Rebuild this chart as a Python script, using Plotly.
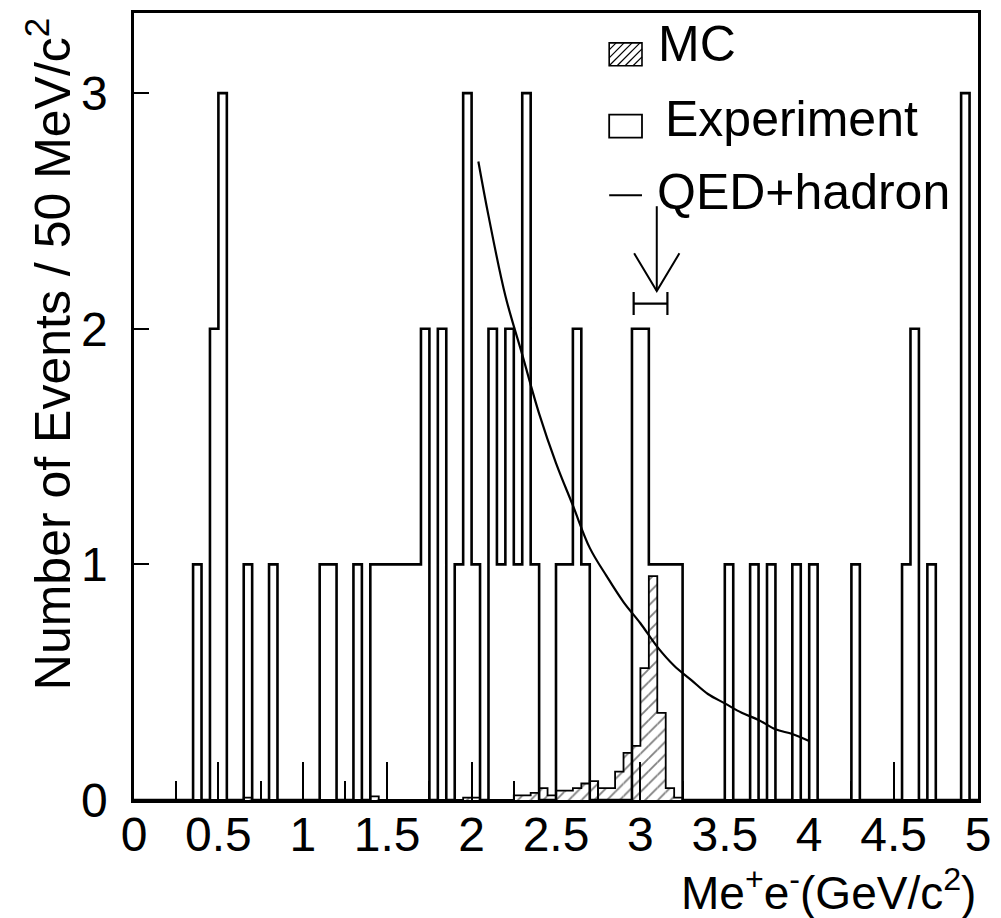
import numpy as np
import plotly.graph_objects as go

# ---------------- data ----------------
bin_width = 0.05
# Experiment: events per 50 MeV bin, bins 0..99 covering 0..5 GeV
exp_counts = [
    0, 0, 0, 0, 0, 0, 0, 1, 0, 2, 3, 0, 0, 1, 0, 0, 1, 0, 0, 0,
    0, 0, 1, 1, 0, 0, 1, 0, 1, 1, 1, 1, 1, 1, 2, 0, 2, 0, 1, 3,
    1, 0, 2, 1, 2, 1, 3, 1, 0, 0, 1, 1, 2, 1, 0, 0, 0, 0, 0, 2,
    2, 1, 1, 1, 1, 0, 0, 0, 0, 0, 1, 0, 0, 1, 0, 1, 0, 0, 1, 0,
    1, 0, 0, 0, 0, 1, 0, 0, 0, 0, 0, 1, 2, 0, 1, 0, 0, 0, 3, 0,
]
# MC (J/psi) expectation per bin
mc_values = [
    0, 0, 0, 0, 0, 0, 0, 0, 0, 0, 0, 0, 0, 0.01, 0, 0, 0, 0, 0, 0,
    0, 0, 0, 0, 0, 0, 0, 0, 0.015, 0, 0, 0, 0, 0, 0, 0, 0, 0, 0, 0.01,
    0.01, 0, 0, 0, 0, 0.02, 0.02, 0.03, 0.05, 0.02, 0.04, 0.04, 0.05, 0.07, 0.08, 0.05, 0.05, 0.12, 0.20, 0.23,
    0.56, 0.95, 0.37, 0.05, 0.01, 0, 0, 0, 0, 0, 0, 0, 0, 0, 0, 0, 0, 0, 0, 0,
    0, 0, 0, 0, 0, 0, 0, 0, 0, 0, 0, 0, 0, 0, 0, 0, 0, 0, 0, 0,
]
# QED + hadron background curve
qed_x = [2.04, 2.10, 2.20, 2.30, 2.40, 2.50, 2.60, 2.70, 2.80, 2.90, 3.00,
         3.10, 3.20, 3.30, 3.40, 3.50, 3.60, 3.70, 3.80, 3.90, 4.00]
qed_y = [2.71, 2.48, 2.14, 1.89, 1.64, 1.43, 1.25, 1.07, 0.95, 0.84, 0.75,
         0.65, 0.57, 0.51, 0.45, 0.41, 0.37, 0.34, 0.30, 0.28, 0.25]
# J/psi marker: arrow and mass window
jpsi_mass = 3.097
arrow_top, arrow_tip, arrow_wing_y, arrow_wing_dx = 2.52, 2.16, 2.32, 0.134
window_center, window_half, window_y = 3.06, 0.10, 2.107

x_tick_vals = [0, 0.5, 1, 1.5, 2, 2.5, 3, 3.5, 4, 4.5, 5]
x_tick_text = ["0", "0.5", "1", "1.5", "2", "2.5", "3", "3.5", "4", "4.5", "5"]
y_tick_vals = [0, 1, 2, 3]

# ---------------- figure ----------------
FONT = "Liberation Sans, Arial, Helvetica, sans-serif"
L, R, T, B = 134, 18, 10, 118
W, H = 1001, 918
PW, PH = W - L - R, H - T - B


def px(xp):
    return (xp - L) / PW


def py(yp):
    return (H - B - yp) / PH


nb = len(exp_counts)
edges = [round(i * bin_width, 4) for i in range(nb + 1)]
centers = [round((i + 0.5) * bin_width, 4) for i in range(nb)]

fig = go.Figure()

# MC hatched bars
fig.add_trace(go.Bar(
    x=centers, y=mc_values, width=bin_width,
    marker=dict(color="white", line=dict(width=0),
                pattern=dict(shape="/", fgcolor="black", bgcolor="white",
                             size=9, solidity=0.2)),
    showlegend=False, hoverinfo="skip"))
# MC outline
fig.add_trace(go.Scatter(
    x=edges, y=mc_values + [mc_values[-1]], mode="lines",
    line=dict(color="black", width=1.8, shape="hv"),
    showlegend=False, hoverinfo="skip"))
# Experiment outline histogram
fig.add_trace(go.Scatter(
    x=edges, y=exp_counts + [exp_counts[-1]], mode="lines",
    line=dict(color="black", width=2.6, shape="hv"),
    showlegend=False))
# QED + hadron curve
fig.add_trace(go.Scatter(
    x=qed_x, y=qed_y, mode="lines",
    line=dict(color="black", width=2.2, shape="spline"),
    showlegend=False))
# J/psi arrow
fig.add_trace(go.Scatter(
    x=[jpsi_mass, jpsi_mass, None, jpsi_mass - arrow_wing_dx, jpsi_mass, jpsi_mass + arrow_wing_dx],
    y=[arrow_top, arrow_tip, None, arrow_wing_y, arrow_tip, arrow_wing_y],
    mode="lines", line=dict(color="black", width=2), showlegend=False, hoverinfo="skip"))
# mass window bar
fig.add_trace(go.Scatter(
    x=[window_center], y=[window_y], mode="markers",
    marker=dict(size=1, color="rgba(0,0,0,0)"),
    error_x=dict(type="constant", value=window_half, color="black", thickness=2.2, width=11.5),
    showlegend=False, hoverinfo="skip"))

# ---------------- legend (drawn manually) ----------------
shapes = []
# MC swatch: hatched box
bx0, bx1, by0, by1 = 612, 645, 40, 63
shapes.append(dict(type="rect", xref="paper", yref="paper",
                   x0=px(bx0), x1=px(bx1), y0=py(by1), y1=py(by0),
                   line=dict(color="black", width=1.6), fillcolor="white"))
step = 8
for k in range(-3, 6):
    xa, ya = bx0 + k * step, by1
    xb, yb = xa + (by1 - by0), by0
    if xa < bx0:
        ya -= (bx0 - xa); xa = bx0
    if xb > bx1:
        yb += (xb - bx1); xb = bx1
    if xa >= xb or ya <= yb:
        continue
    shapes.append(dict(type="line", xref="paper", yref="paper",
                       x0=px(xa), y0=py(ya), x1=px(xb), y1=py(yb),
                       line=dict(color="black", width=1.2)))
# Experiment swatch
shapes.append(dict(type="rect", xref="paper", yref="paper",
                   x0=px(612), x1=px(645), y0=py(135), y1=py(112),
                   line=dict(color="black", width=1.8), fillcolor="white"))
# QED swatch
shapes.append(dict(type="line", xref="paper", yref="paper",
                   x0=px(612), x1=px(645), y0=py(193), y1=py(193),
                   line=dict(color="black", width=2)))

LEG = 50
annotations = [
    dict(text="MC", x=px(659), y=py(41), xref="paper", yref="paper",
         xanchor="left", yanchor="middle", showarrow=False,
         font=dict(family=FONT, size=LEG, color="black")),
    dict(text="Experiment", x=px(666), y=py(116), xref="paper", yref="paper",
         xanchor="left", yanchor="middle", showarrow=False,
         font=dict(family=FONT, size=LEG, color="black")),
    dict(text="QED+hadron", x=px(658), y=py(190), xref="paper", yref="paper",
         xanchor="left", yanchor="middle", showarrow=False,
         font=dict(family=FONT, size=LEG, color="black")),
    # axis titles
    dict(text="Number of Events / 50 MeV/c<sup>2</sup>", x=px(48), y=py(352),
         xref="paper", yref="paper", xanchor="center", yanchor="middle",
         textangle=-90, showarrow=False,
         font=dict(family=FONT, size=50, color="black")),
    dict(text="Me<sup>+</sup>e<sup>-</sup>(GeV/c<sup>2</sup>)", x=px(983), y=py(890),
         xref="paper", yref="paper", xanchor="right", yanchor="middle",
         showarrow=False, font=dict(family=FONT, size=46, color="black")),
]

fig.update_layout(
    width=W, height=H,
    margin=dict(l=L, r=R, t=T, b=B, pad=0),
    paper_bgcolor="white", plot_bgcolor="white",
    barmode="overlay", showlegend=False,
    font=dict(family=FONT, color="black"),
    shapes=shapes, annotations=annotations,
)
fig.update_xaxes(
    range=[0, 5], tickvals=x_tick_vals, ticktext=x_tick_text,
    ticks="inside", ticklen=38, tickwidth=2, tickcolor="black",
    minor=dict(dtick=0.25, tick0=0, ticks="inside", ticklen=19, tickwidth=2, tickcolor="black"),
    showline=True, linewidth=2.6, linecolor="black", mirror=True,
    showgrid=False, zeroline=False,
    tickfont=dict(family=FONT, size=48, color="black"),
    ticklabelstandoff=-9,
)
fig.update_yaxes(
    range=[0, 3.34], tickvals=y_tick_vals,
    ticks="inside", ticklen=15, tickwidth=2.2, tickcolor="black",
    showline=True, linewidth=2.6, linecolor="black", mirror=True,
    showgrid=False, zeroline=False,
    tickfont=dict(family=FONT, size=48, color="black"),
    ticklabelstandoff=14,
)

fig.write_html("out.html")
